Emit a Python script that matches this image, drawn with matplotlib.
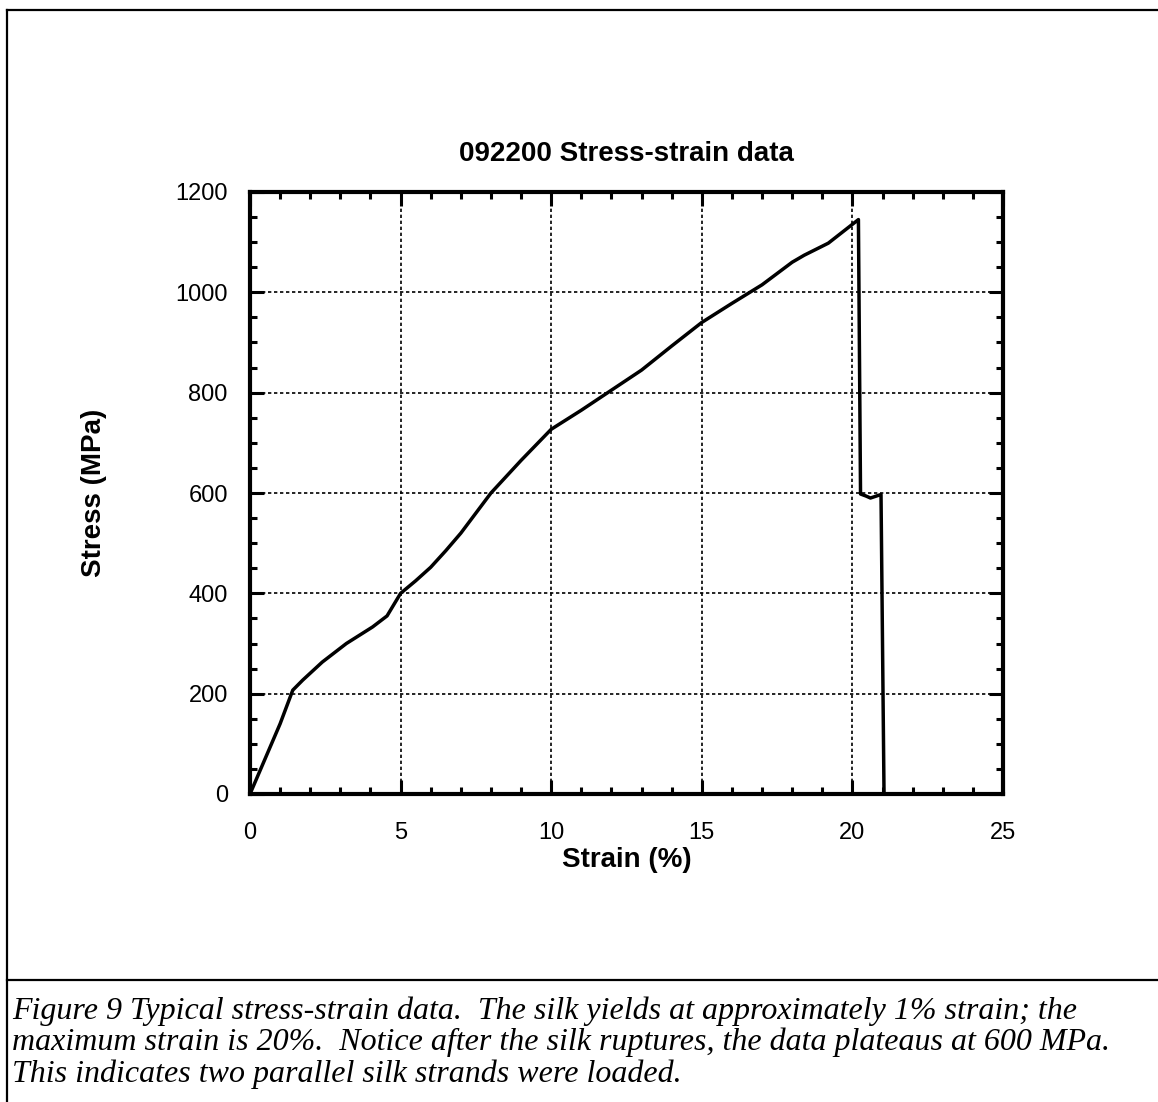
"""
092200 应力-应变曲线复现
"""
import numpy as np
import matplotlib.pyplot as plt
from matplotlib.lines import Line2D
from matplotlib.ticker import MultipleLocator

# 数据
strain = [0.0, 0.5, 1.0, 1.42, 1.75, 2.4, 3.2, 4.07, 4.55, 5.0, 5.5, 6.0,
          6.5, 7.0, 7.5, 8.0, 9.0, 10.0, 11.0, 12.0, 13.0, 14.0, 15.0,
          16.0, 17.0, 18.0, 18.4, 19.2, 20.2, 20.27, 20.45, 20.6, 20.95,
          21.05]
stress = [0, 70, 140, 207, 227, 263, 300, 333, 355, 400, 425, 452,
          485, 520, 560, 600, 665, 727, 765, 805, 845, 893, 940,
          978, 1015, 1060, 1074, 1098, 1145, 598, 594, 590, 597,
          0]

title = '092200 Stress-strain data'
xlabel = 'Strain (%)'
ylabel = 'Stress (MPa)'
caption = ('Figure 9 Typical stress-strain data.  The silk yields at approximately 1% strain; the\n'
           'maximum strain is 20%.  Notice after the silk ruptures, the data plateaus at 600 MPa.\n'
           'This indicates two parallel silk strands were loaded.')

plt.rcParams['font.family'] = ['Liberation Sans', 'DejaVu Sans']

W, H = 1158, 1102
fig = plt.figure(figsize=(W / 100, H / 100), dpi=100)
ax = fig.add_axes([250 / W, 1 - 794 / H, (1003 - 250) / W, (794 - 192) / H])

ax.plot(strain, stress, color='black', linewidth=2.5, solid_joinstyle='round')

ax.set_xlim(0, 25)
ax.set_ylim(0, 1200)
ax.xaxis.set_major_locator(MultipleLocator(5))
ax.xaxis.set_minor_locator(MultipleLocator(1))
ax.yaxis.set_major_locator(MultipleLocator(200))
ax.yaxis.set_minor_locator(MultipleLocator(50))
ax.tick_params(which='both', direction='in', top=True, right=True,
               width=2.2, labelsize=17)
ax.tick_params(axis='x', pad=20)
ax.tick_params(axis='y', pad=16)
ax.tick_params(which='major', length=10)
ax.tick_params(which='minor', length=5)
ax.grid(True, which='major', color='black', linestyle=(0, (2, 1.6)), linewidth=1.2)
for s in ax.spines.values():
    s.set_linewidth(3)

ax.set_title(title, fontsize=20, fontweight='bold', pad=22)
ax.set_xlabel(xlabel, fontsize=20, fontweight='bold', labelpad=2)
ax.set_ylabel(ylabel, fontsize=20, fontweight='bold', labelpad=49)

# 外框和分隔线
def px_line(x0, y0, x1, y1, lw=1.6):
    fig.add_artist(Line2D([x0 / W, x1 / W], [1 - y0 / H, 1 - y1 / H],
                          color='black', linewidth=lw, transform=fig.transFigure))

px_line(7, 10, W, 10)
px_line(7, 10, 7, H)
px_line(7, 980, W, 980)

fig.text(12 / W, 1 - 996 / H, caption, ha='left', va='top', fontsize=23,
         family=['Liberation Serif', 'DejaVu Serif'], style='italic',
         linespacing=1.1)

plt.savefig('out.png', dpi=100)
